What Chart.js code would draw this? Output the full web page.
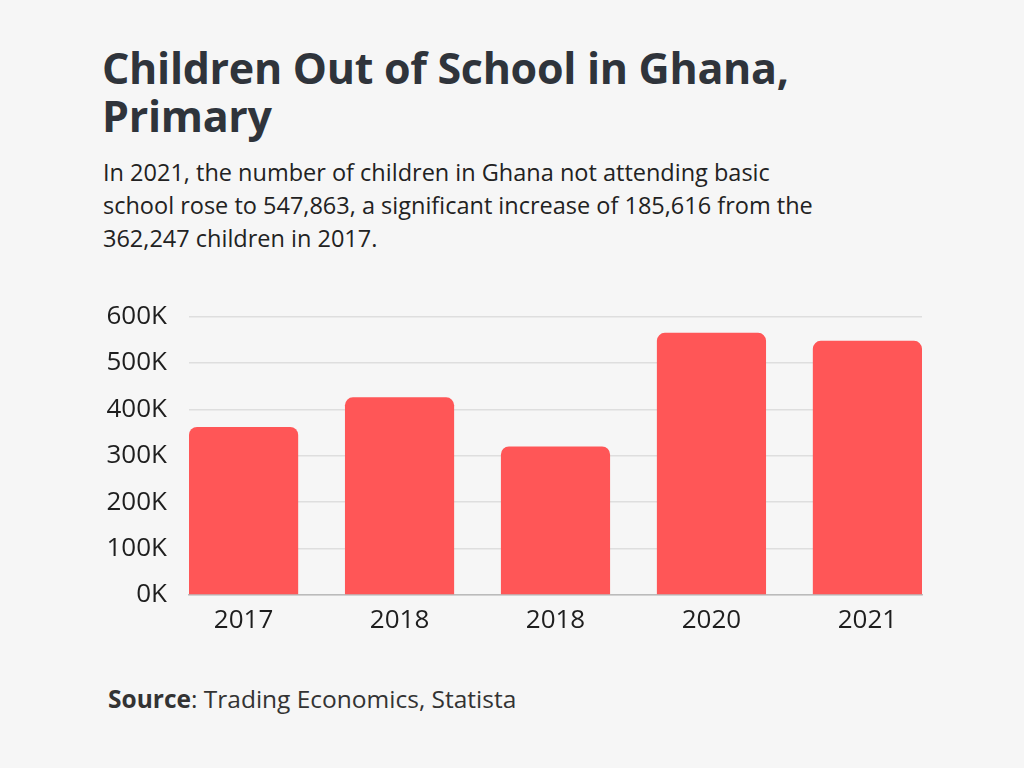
<!DOCTYPE html>
<html>
<head>
<meta charset="utf-8">
<script src="https://cdn.jsdelivr.net/npm/chart.js@4"></script>
<style>
  body { margin: 0; background: #f6f6f6; width: 1024px; height: 768px; overflow: hidden; font-family: "Open Sans", sans-serif; }
  #title { position: absolute; left: 102px; top: 44px; font-size: 43px; font-weight: 700; color: #2f343b; line-height: 48px; margin: 0; letter-spacing: -0.3px; }
  #subtitle { position: absolute; left: 103px; top: 156px; font-size: 23.5px; color: #222; line-height: 33px; margin: 0; }
  #chartBox { position: absolute; left: 0; top: 279px; width: 1024px; height: 361px; }
  #source { position: absolute; left: 108px; top: 682px; font-size: 24.5px; color: #333; }
</style>
</head>
<body>
<h1 id="title">Children Out of School in Ghana,<br>Primary</h1>
<p id="subtitle">In 2021, the number of children in Ghana not attending basic<br>school rose to 547,863, a significant increase of 185,616 from the<br>362,247 children in 2017.</p>
<div id="chartBox"><canvas id="schoolChart"></canvas></div>
<div id="source"><b>Source</b>: Trading Economics, Statista</div>
<script>
// data (third label is "2018" in the original)
const years = ['2017', '2018', '2018', '2020', '2021'];
const outOfSchool = [362247, 426000, 320000, 565000, 547863];
const yTicks = [0, 100000, 200000, 300000, 400000, 500000, 600000];

document.addEventListener('DOMContentLoaded', function () {
    const ctx = document.getElementById('schoolChart').getContext('2d');

    // bars sit flush with the plot edges, so a linear x axis is used
    const points = outOfSchool.map((v, i) => ({ x: i, y: v }));

    new Chart(ctx, {
        type: 'bar',
        data: {
            datasets: [{
                data: points,
                backgroundColor: '#ff5657',
                borderRadius: { topLeft: 8, topRight: 8, bottomLeft: 0, bottomRight: 0 },
                borderSkipped: 'bottom',
                barPercentage: 0.7,
                categoryPercentage: 1.0
            }]
        },
        options: {
            responsive: true,
            maintainAspectRatio: false,
            animation: false,
            layout: { padding: { left: 100, right: 102, top: 17, bottom: 0 } },
            plugins: { legend: { display: false }, tooltip: { enabled: false } },
            scales: {
                x: {
                    type: 'linear',
                    offset: false,
                    min: -0.35,
                    max: years.length - 1 + 0.35,
                    afterBuildTicks: function (scale) {
                        scale.ticks = years.map((y, i) => ({ value: i }));
                    },
                    grid: { display: false, drawTicks: false, offset: false },
                    border: { color: '#bbbbbb', width: 1.5 },
                    ticks: {
                        color: '#1e1e1e',
                        font: { family: 'Open Sans', size: 26 },
                        padding: 10,
                        maxRotation: 0,
                        callback: function (v) { return years[v]; }
                    },
                    afterFit: function (scale) { scale.height = 45; }
                },
                y: {
                    min: 0,
                    max: 600000,
                    afterBuildTicks: function (scale) {
                        scale.ticks = yTicks.map(v => ({ value: v }));
                    },
                    grid: { color: '#dedede', lineWidth: 1.5, drawTicks: false },
                    border: { display: false },
                    ticks: {
                        color: '#1e1e1e',
                        font: { family: 'Open Sans', size: 26 },
                        padding: 22,
                        callback: function (v) { return (v / 1000) + 'K'; }
                    },
                    afterFit: function (scale) { scale.width = 89; }
                }
            }
        }
    });
});
</script>
</body>
</html>
